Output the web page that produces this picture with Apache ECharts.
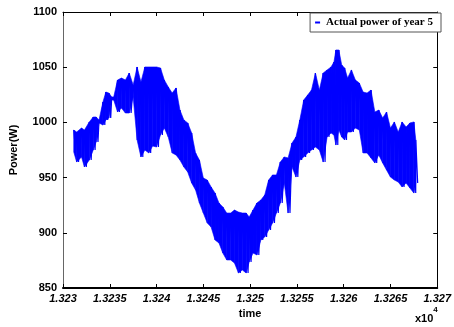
<!DOCTYPE html>
<html>
<head>
<meta charset="utf-8">
<script src="https://cdn.jsdelivr.net/npm/echarts@6/dist/echarts.min.js"></script>
<style>html,body{margin:0;padding:0;background:#fff;}#c{width:454px;height:327px;}</style>
</head>
<body>
<div id="c"></div>
<script>
// time (x10^4 units shown on axis), sampled envelope of the noisy power trace
const times = [13231.15,13231.46,13231.98,13232.29,13232.81,13233.23,13233.54,13233.85,13234.27,13234.58,
13234.90,13235.21,13235.42,13235.83,13236.25,13236.67,13237.08,13237.50,13237.92,13238.33,
13238.75,13239.17,13239.58,13240.00,13240.42,13240.83,13241.25,13241.67,13242.08,13242.50,
13242.92,13243.33,13243.75,13244.17,13244.58,13245.00,13245.42,13245.83,13246.25,13246.67,
13247.08,13247.50,13247.92,13248.33,13248.75,13249.17,13249.58,13249.90,13250.31,13250.73,
13251.15,13251.56,13251.98,13252.40,13252.81,13253.23,13253.65,13254.06,13254.48,13254.90,
13255.31,13255.73,13256.15,13256.56,13256.98,13257.40,13257.81,13258.23,13258.65,13258.96,
13259.17,13259.48,13259.79,13260.10,13260.42,13260.83,13261.25,13261.67,13262.08,13262.50,
13262.92,13263.33,13263.75,13264.17,13264.58,13265.00,13265.42,13265.83,13266.25,13266.67,
13267.08,13267.50,13267.71];
const hiVals = [993.1,991.3,994.9,993.1,1000.4,1004.9,1004.9,1002.2,1018.5,1027.5,
1026.6,1023.0,1023.0,1038.4,1040.2,1038.4,1044.7,1033.9,1050.2,1036.6,
1050.2,1050.2,1050.2,1050.2,1049.3,1038.4,1032.1,1026.6,1031.2,1011.2,
1002.2,999.5,990.4,972.3,965.9,949.6,947.8,941.5,936.0,927.0,
923.4,917.9,917.9,920.6,918.8,917.9,917.9,914.3,920.6,927.0,
929.7,934.2,947.8,952.4,952.4,964.1,968.7,967.8,981.3,986.8,
1002.2,1020.3,1024.8,1029.3,1044.7,1029.3,1044.7,1047.5,1050.2,1054.7,
1065.6,1065.6,1052.0,1049.3,1040.2,1047.5,1038.4,1035.7,1027.5,1026.6,
1029.3,1009.4,1011.2,1004.0,1009.4,994.9,1000.4,991.3,1000.4,995.8,
999.5,1000.4,984.1];
const loVals = [973.2,964.1,968.7,959.6,965.9,975.0,982.2,999.5,997.6,1002.2,
1004.0,1020.3,1020.3,1009.4,1013.0,1008.5,1008.5,1023.0,984.1,968.7,
975.0,972.3,978.6,977.7,988.6,994.9,986.8,972.3,970.5,965.9,
959.6,955.1,945.1,938.8,927.0,917.9,908.9,905.2,893.5,890.8,
881.7,875.4,875.4,872.6,863.6,866.3,863.6,873.6,881.7,879.9,
893.5,896.2,902.5,908.9,917.9,927.0,945.1,917.9,959.6,950.5,
965.9,968.7,972.3,975.0,977.7,975.0,964.1,986.8,990.4,988.6,
979.5,993.1,986.8,984.1,991.3,991.3,994.9,993.1,972.3,972.3,
967.8,963.2,970.5,963.2,956.9,950.5,947.8,946.0,941.5,945.1,
940.6,936.0,945.1];
const yTicks = [850, 900, 950, 1000, 1050, 1100];
const seriesName = 'Actual power of year 5';

const data = [];
times.forEach((t, i) => {
  data.push([t, hiVals[i]]);
  data.push([t + 0.2, loVals[i]]);
});
const bandData = times.map((t, i) => [t, hiVals[i], loVals[i]]);

const chart = echarts.init(document.getElementById('c'), null, {renderer: 'canvas'});
const labelFont = {fontFamily: 'Liberation Sans, Arial, sans-serif', fontWeight: 'bold', fontSize: 11, color: '#000'};
chart.setOption({
  animation: false,
  backgroundColor: '#fff',
  grid: {left: 61, right: 9, top: 12, bottom: 39, containLabel: false},
  legend: {
    data: [{name: seriesName, icon: 'rect'}],
    right: 13, top: 13,
    itemWidth: 5, itemHeight: 2, itemGap: 4,
    padding: [4, 8, 4, 5],
    borderColor: '#555', borderWidth: 1, backgroundColor: '#fff',
    textStyle: {fontFamily: 'Liberation Serif, Times New Roman, serif', fontWeight: 'bold', fontSize: 11, color: '#000', padding: [0,0,0,1]}
  },
  xAxis: [{
    type: 'value', min: 13230, max: 13270, interval: 5,
    name: 'time', nameLocation: 'middle', nameGap: 20,
    nameTextStyle: {fontFamily: 'Liberation Sans, Arial, sans-serif', fontWeight: 'bold', fontSize: 11, color: '#000'},
    axisLine: {show: true, lineStyle: {color: '#000', width: 2}},
    axisTick: {show: true, inside: true, length: 4, lineStyle: {color: '#000'}},
    axisLabel: Object.assign({margin: 5, formatter: v => String(+(v / 1e4).toFixed(4)), fontStyle: 'italic'}, labelFont),
    splitLine: {show: false}
  }, {
    type: 'value', min: 13230, max: 13270, interval: 5, position: 'top',
    axisLine: {show: true, onZero: false, lineStyle: {color: '#000', width: 1}},
    axisTick: {show: true, inside: true, length: 4, lineStyle: {color: '#000'}},
    axisLabel: {show: false}, splitLine: {show: false}
  }],
  yAxis: [{
    type: 'value', min: yTicks[0], max: yTicks[yTicks.length - 1], interval: 50,
    name: 'Power(W)', nameLocation: 'middle', nameGap: 44, nameRotate: 90,
    nameTextStyle: {fontFamily: 'Liberation Sans, Arial, sans-serif', fontWeight: 'bold', fontSize: 11, color: '#000'},
    axisLine: {show: true, lineStyle: {color: '#666', width: 1}},
    axisTick: {show: true, inside: true, length: 4, lineStyle: {color: '#000'}},
    axisLabel: Object.assign({margin: 6, formatter: v => String(v)}, labelFont),
    splitLine: {show: false}
  }, {
    type: 'value', min: yTicks[0], max: yTicks[yTicks.length - 1], interval: 50, position: 'right',
    axisLine: {show: true, onZero: false, lineStyle: {color: '#000', width: 1}},
    axisTick: {show: true, inside: true, length: 4, lineStyle: {color: '#000'}},
    axisLabel: {show: false}, splitLine: {show: false}
  }],
  series: [{
    name: 'band', type: 'custom', xAxisIndex: 0, yAxisIndex: 0,
    data: bandData, silent: true,
    encode: {x: 0, y: [1, 2]},
    renderItem: function (params, api) {
      const i = params.dataIndex;
      if (i >= bandData.length - 1) return null;
      const a = bandData[i], b = bandData[i + 1];
      const pts = [api.coord([a[0], a[1]]), api.coord([b[0], b[1]]), api.coord([b[0], b[2]]), api.coord([a[0], a[2]])];
      return {type: 'polygon', shape: {points: pts}, style: {fill: '#0000ff', stroke: '#0000ff', lineWidth: 0.6}};
    }
  }, {
    name: seriesName, type: 'line', xAxisIndex: 0, yAxisIndex: 0,
    data: data, showSymbol: false, symbol: 'none',
    lineStyle: {color: '#0000ff', width: 1.2},
    itemStyle: {color: '#0000ff'}
  }],
  graphic: [{
    type: 'text', left: 415, top: 306,
    style: {
      text: '{a|x10}{b|4}',
      rich: {
        a: {fontFamily: 'Liberation Sans, Arial, sans-serif', fontWeight: 'bold', fontSize: 11, fill: '#000', verticalAlign: 'bottom'},
        b: {fontFamily: 'Liberation Sans, Arial, sans-serif', fontWeight: 'bold', fontSize: 8, fill: '#000', verticalAlign: 'top', padding: [0,0,10,0]}
      }
    }
  }]
});
</script>
</body>
</html>
